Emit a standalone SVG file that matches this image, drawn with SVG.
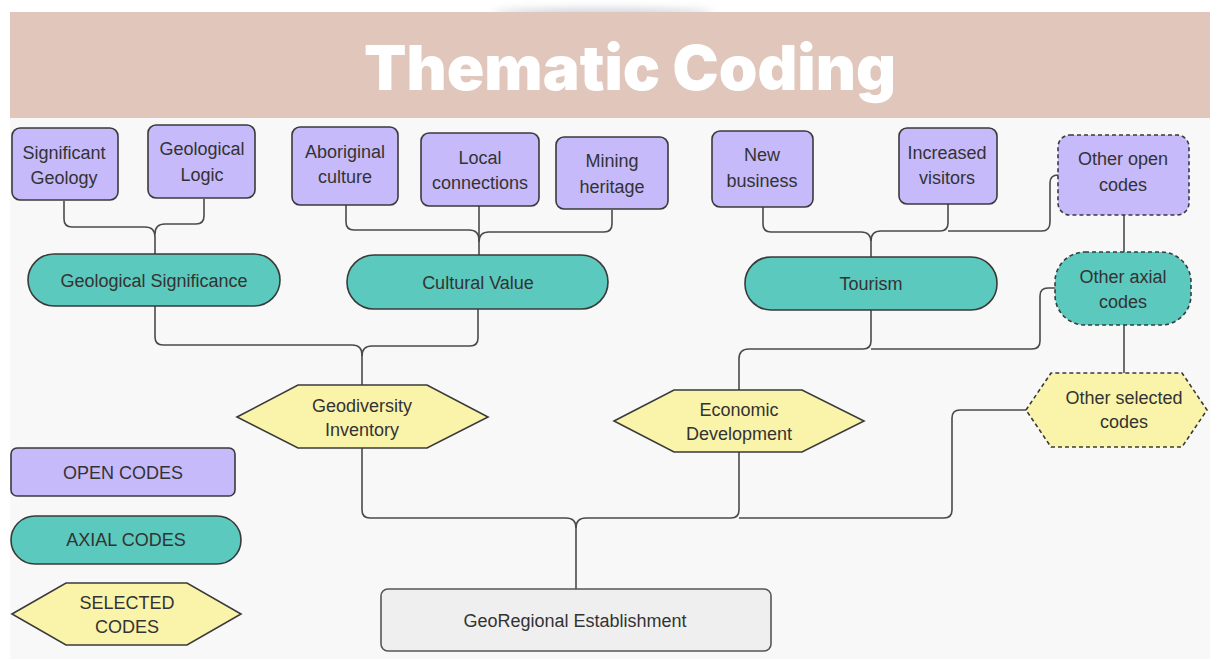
<svg xmlns="http://www.w3.org/2000/svg" width="1210" height="659" viewBox="0 0 1210 659">
<defs>
<style>
.open{fill:#c6bafb;stroke:#3a3a3a;stroke-width:1.6}
.axial{fill:#5bc9bd;stroke:#3a3a3a;stroke-width:1.6}
.sel{fill:#faf4aa;stroke:#3a3a3a;stroke-width:1.6}
.final{fill:#efefef;stroke:#555;stroke-width:1.6}
.dash{stroke-dasharray:4 3}
.t{font-family:"Liberation Sans",Arial,sans-serif;font-size:18px;fill:#333;text-anchor:middle;dominant-baseline:central}
.c{fill:none;stroke:#4a4a4a;stroke-width:1.6}
</style>
<filter id="blur" x="-50%" y="-200%" width="200%" height="500%"><feGaussianBlur stdDeviation="4"/></filter>
</defs>
<rect width="1210" height="659" fill="#ffffff"/>
<rect x="10" y="118" width="1200" height="541" fill="#f8f8f8"/>
<ellipse cx="603" cy="13" rx="110" ry="4" fill="#b9c1c8" filter="url(#blur)" opacity="0.8"/>
<rect x="10" y="12" width="1200" height="106" fill="#e0c6bb"/>
<text x="630" y="90" font-family="Inter,'Liberation Sans',Arial,sans-serif" font-weight="900" font-size="62" fill="#ffffff" text-anchor="middle" textLength="532" lengthAdjust="spacingAndGlyphs">Thematic Coding</text>

<g id="connectors">
<path class="c" d="M64,201 V219 Q64,227 72,227 H145 Q155,227 155,237 V254"/>
<path class="c" d="M204,199 V216 Q204,224 196,224 H165 Q155,224 155,234"/>
<path class="c" d="M346,205 V222 Q346,230 354,230 H469 Q479,230 479,240"/>
<path class="c" d="M612,210 V224 Q612,232 604,232 H489 Q479,232 479,242"/>
<path class="c" d="M479,206 V255"/>
<path class="c" d="M763,207 V224 Q763,232 771,232 H861 Q871,232 871,242 V257"/>
<path class="c" d="M948,204 V223 Q948,231 940,231 H881 Q871,231 871,241"/>
<path class="c" d="M1058,175 Q1050,175 1050,183 V222 Q1050,231 1042,231 H948"/>
<path class="c" d="M1124,215 V252"/>
<path class="c" d="M1124,325 V373"/>
<path class="c" d="M155,306 V337 Q155,345 163,345 H352 Q362,345 362,355 V385"/>
<path class="c" d="M478,309 V338 Q478,346 470,346 H372 Q362,346 362,356"/>
<path class="c" d="M871,310 V341 Q871,349 863,349 H749 Q739,349 739,359 V390"/>
<path class="c" d="M1055,288 H1048 Q1040,288 1040,296 V341 Q1040,349 1032,349 H871"/>
<path class="c" d="M362,448 V510 Q362,518 370,518 H566 Q576,518 576,528 V589"/>
<path class="c" d="M739,452 V510 Q739,518 731,518 H586 Q576,518 576,528"/>
<path class="c" d="M1026,410 H960 Q952,410 952,418 V510 Q952,518 944,518 H739"/>
</g>

<g id="significant-geology"><rect class="open" x="12" y="128" width="106" height="72" rx="8"/><text class="t" x="64" y="153">Significant</text><text class="t" x="64" y="178">Geology</text></g>
<g id="geological-logic"><rect class="open" x="148" y="125" width="107" height="73" rx="8"/><text class="t" x="202" y="149">Geological</text><text class="t" x="202" y="175">Logic</text></g>
<g id="aboriginal-culture"><rect class="open" x="292" y="127" width="106" height="78" rx="8"/><text class="t" x="345" y="152">Aboriginal</text><text class="t" x="345" y="177">culture</text></g>
<g id="local-connections"><rect class="open" x="421" y="133" width="118" height="73" rx="8"/><text class="t" x="480" y="158">Local</text><text class="t" x="480" y="183">connections</text></g>
<g id="mining-heritage"><rect class="open" x="556" y="137" width="112" height="72" rx="8"/><text class="t" x="612" y="161">Mining</text><text class="t" x="612" y="187">heritage</text></g>
<g id="new-business"><rect class="open" x="712" y="131" width="101" height="76" rx="8"/><text class="t" x="762" y="155">New</text><text class="t" x="762" y="181">business</text></g>
<g id="increased-visitors"><rect class="open" x="899" y="128" width="98" height="76" rx="8"/><text class="t" x="947" y="153">Increased</text><text class="t" x="947" y="178">visitors</text></g>
<g id="other-open-codes"><rect class="open dash" x="1058" y="135" width="131" height="80" rx="12"/><text class="t" x="1123" y="159">Other open</text><text class="t" x="1123" y="185">codes</text></g>

<g id="geological-significance"><rect class="axial" x="28" y="254" width="252" height="52" rx="26"/><text class="t" x="154" y="281">Geological Significance</text></g>
<g id="cultural-value"><rect class="axial" x="347" y="255" width="261" height="54" rx="27"/><text class="t" x="478" y="283">Cultural Value</text></g>
<g id="tourism"><rect class="axial" x="745" y="257" width="252" height="53" rx="26"/><text class="t" x="871" y="284">Tourism</text></g>
<g id="other-axial-codes"><rect class="axial dash" x="1055" y="252" width="136" height="73" rx="30"/><text class="t" x="1123" y="277">Other axial</text><text class="t" x="1123" y="302">codes</text></g>

<g id="geodiversity-inventory"><polygon class="sel" points="237,417 298,385 427,385 488,417 427,448 298,448"/><text class="t" x="362" y="406">Geodiversity</text><text class="t" x="362" y="430">Inventory</text></g>
<g id="economic-development"><polygon class="sel" points="614,421 674,390 802,390 864,421 802,452 674,452"/><text class="t" x="739" y="410">Economic</text><text class="t" x="739" y="434">Development</text></g>
<g id="other-selected-codes"><polygon class="sel dash" points="1026,410 1051,373 1182,373 1207,410 1182,447 1051,447"/><text class="t" x="1124" y="398">Other selected</text><text class="t" x="1124" y="422">codes</text></g>

<g id="georegional-establishment"><rect class="final" x="381" y="589" width="390" height="62" rx="7"/><text class="t" x="575" y="621">GeoRegional Establishment</text></g>

<g id="legend-open"><rect class="open" x="11" y="448" width="224" height="48" rx="6"/><text class="t" x="123" y="473">OPEN CODES</text></g>
<g id="legend-axial"><rect class="axial" x="11" y="516" width="230" height="48" rx="24"/><text class="t" x="126" y="540">AXIAL CODES</text></g>
<g id="legend-selected"><polygon class="sel" points="12,614 66,583 187,583 241,614 187,645 66,645"/><text class="t" x="127" y="603">SELECTED</text><text class="t" x="127" y="627">CODES</text></g>
</svg>
